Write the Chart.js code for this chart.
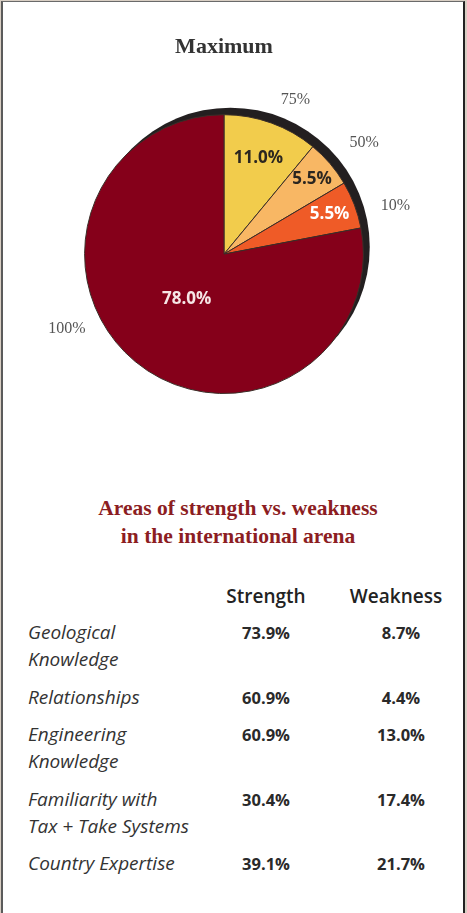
<!DOCTYPE html>
<html>
<head>
<meta charset="utf-8">
<script src="https://cdn.jsdelivr.net/npm/chart.js@4.4.0/dist/chart.umd.min.js"></script>
<style>
  html, body { margin: 0; padding: 0; }
  body { width: 467px; height: 913px; background: #d8cec3; position: relative; overflow: hidden; }
  #marco {
    position: absolute; left: 1px; top: 1px; width: 460px; height: 920px;
    background: #fff; border-left: 2px solid #5b5b5b; border-top: 1px solid #6a6a6a; border-right: 2px solid #222;
  }
  #cntr_grafica { position: absolute; left: 0; top: 0; }
  #titulo {
    position: absolute; left: 8px; top: 494px; width: 460px; text-align: center;
    font-family: 'Liberation Serif', serif; font-weight: bold; font-size: 21.5px; line-height: 28px; color: #8c1d22;
  }
  #tabla {
    position: absolute; left: 28px; top: 583px; border-collapse: collapse; table-layout: fixed;
    font-family: 'Open Sans', sans-serif; color: #2a2a2a;
  }
  #tabla td, #tabla th { padding: 0 0 10.5px 0; line-height: 27px; vertical-align: top; }
  #tabla th { font-weight: 600; font-size: 19px; text-align: center; color: #222; padding-bottom: 9px; }
  #tabla th.ultima { padding-right: 10px; }
  #tabla td.area { font-style: italic; font-size: 19px; white-space: pre-line; color: #333; }
  #tabla td.valor { font-weight: bold; font-size: 16.5px; text-align: center; color: #2a2a2a; }
</style>
</head>
<body>
<div id="marco"></div>
<div id="cntr_grafica"><canvas id="myChart" width="467" height="460"></canvas></div>
<div id="titulo">Areas of strength vs. weakness<br>in the international arena</div>
<table id="tabla"></table>
<script>
// Pie: level labels and their share
const niveles = ['75%', '50%', '10%', '100%'];
const porcentajes = [11.0, 5.5, 5.5, 78.0];
const colores = ['#f2cc4c', '#f8b764', '#ef5b27', '#85001a'];
const coloresTexto = ['#2b2620', '#2b2620', '#ffffff', '#f6e6e6'];

// Table: areas and the strength / weakness answers
const columnas = ['Strength', 'Weakness'];
const areas = ['Geological\nKnowledge', 'Relationships', 'Engineering\nKnowledge', 'Familiarity with\nTax + Take Systems', 'Country Expertise'];
const fortaleza = [73.9, 60.9, 60.9, 30.4, 39.1];
const debilidad = [8.7, 4.4, 13.0, 17.4, 21.7];

// Where the labels go around each slice (fraction of radius / px and degree nudge)
const radioInterior = [0.73, 0.83, 0.81, 0.42];
const radioExterior = [170, 179, 178, 174];
const giroExterior = [5, 2, 5, 25];

const rad = g => g * Math.PI / 180;

/**
 * * Black crescent behind the pie (top-right rim)
 */
const anillo = {
  id: 'anillo',
  beforeDatasetsDraw(chart) {
    const arco = chart.getDatasetMeta(0).data[0];
    const ctx = chart.ctx;
    const dir = rad(-48);
    ctx.save();
    ctx.fillStyle = '#231f20';
    ctx.beginPath();
    ctx.arc(arco.x + 9.5 * Math.cos(dir), arco.y + 9.5 * Math.sin(dir), arco.outerRadius, 0, Math.PI * 2);
    ctx.fill();
    ctx.restore();
  }
};

/**
 * * Percent labels inside the slices and level labels outside
 */
const etiquetas = {
  id: 'etiquetas',
  afterDatasetsDraw(chart) {
    const ctx = chart.ctx;
    const arcos = chart.getDatasetMeta(0).data;
    ctx.save();
    ctx.textAlign = 'center';
    ctx.textBaseline = 'middle';
    arcos.forEach((arco, i) => {
      const medio = (arco.startAngle + arco.endAngle) / 2;
      const r = arco.outerRadius * radioInterior[i];
      ctx.font = 'bold 17px "Open Sans", sans-serif';
      ctx.fillStyle = coloresTexto[i];
      ctx.fillText(porcentajes[i].toFixed(1) + '%', arco.x + r * Math.cos(medio), arco.y + r * Math.sin(medio));

      const a = medio + rad(giroExterior[i]);
      ctx.font = '16px "Liberation Serif", serif';
      ctx.fillStyle = '#555';
      ctx.fillText(niveles[i], arco.x + radioExterior[i] * Math.cos(a), arco.y + radioExterior[i] * Math.sin(a));
    });
    ctx.restore();
  }
};

const ctx = document.getElementById('myChart');
new Chart(ctx, {
  type: 'pie',
  data: {
    labels: niveles,
    datasets: [{
      data: porcentajes,
      backgroundColor: colores,
      borderColor: '#3a2e28',
      borderWidth: 1
    }]
  },
  options: {
    responsive: false,
    animation: false,
    layout: { padding: { left: 84, right: 103, top: 0, bottom: 66 } },
    plugins: {
      legend: { display: false },
      tooltip: { enabled: false },
      title: {
        display: true,
        text: 'Maximum',
        color: '#333',
        font: { family: 'Liberation Serif', size: 22, weight: 'bold' },
        padding: { top: 33.8, bottom: 54 }
      }
    }
  },
  plugins: [anillo, etiquetas]
});

// Build the strength / weakness table
const tabla = document.getElementById('tabla');
tabla.innerHTML =
  '<colgroup><col style="width:183px"><col style="width:110px"><col style="width:25px"><col style="width:110px"></colgroup>' +
  '<tr><th></th><th>' + columnas[0] + '</th><th></th><th class="ultima">' + columnas[1] + '</th></tr>' +
  areas.map((area, i) =>
    '<tr><td class="area">' + area + '</td>' +
    '<td class="valor">' + fortaleza[i].toFixed(1) + '%</td><td></td>' +
    '<td class="valor">' + debilidad[i].toFixed(1) + '%</td></tr>'
  ).join('');
</script>
</body>
</html>
